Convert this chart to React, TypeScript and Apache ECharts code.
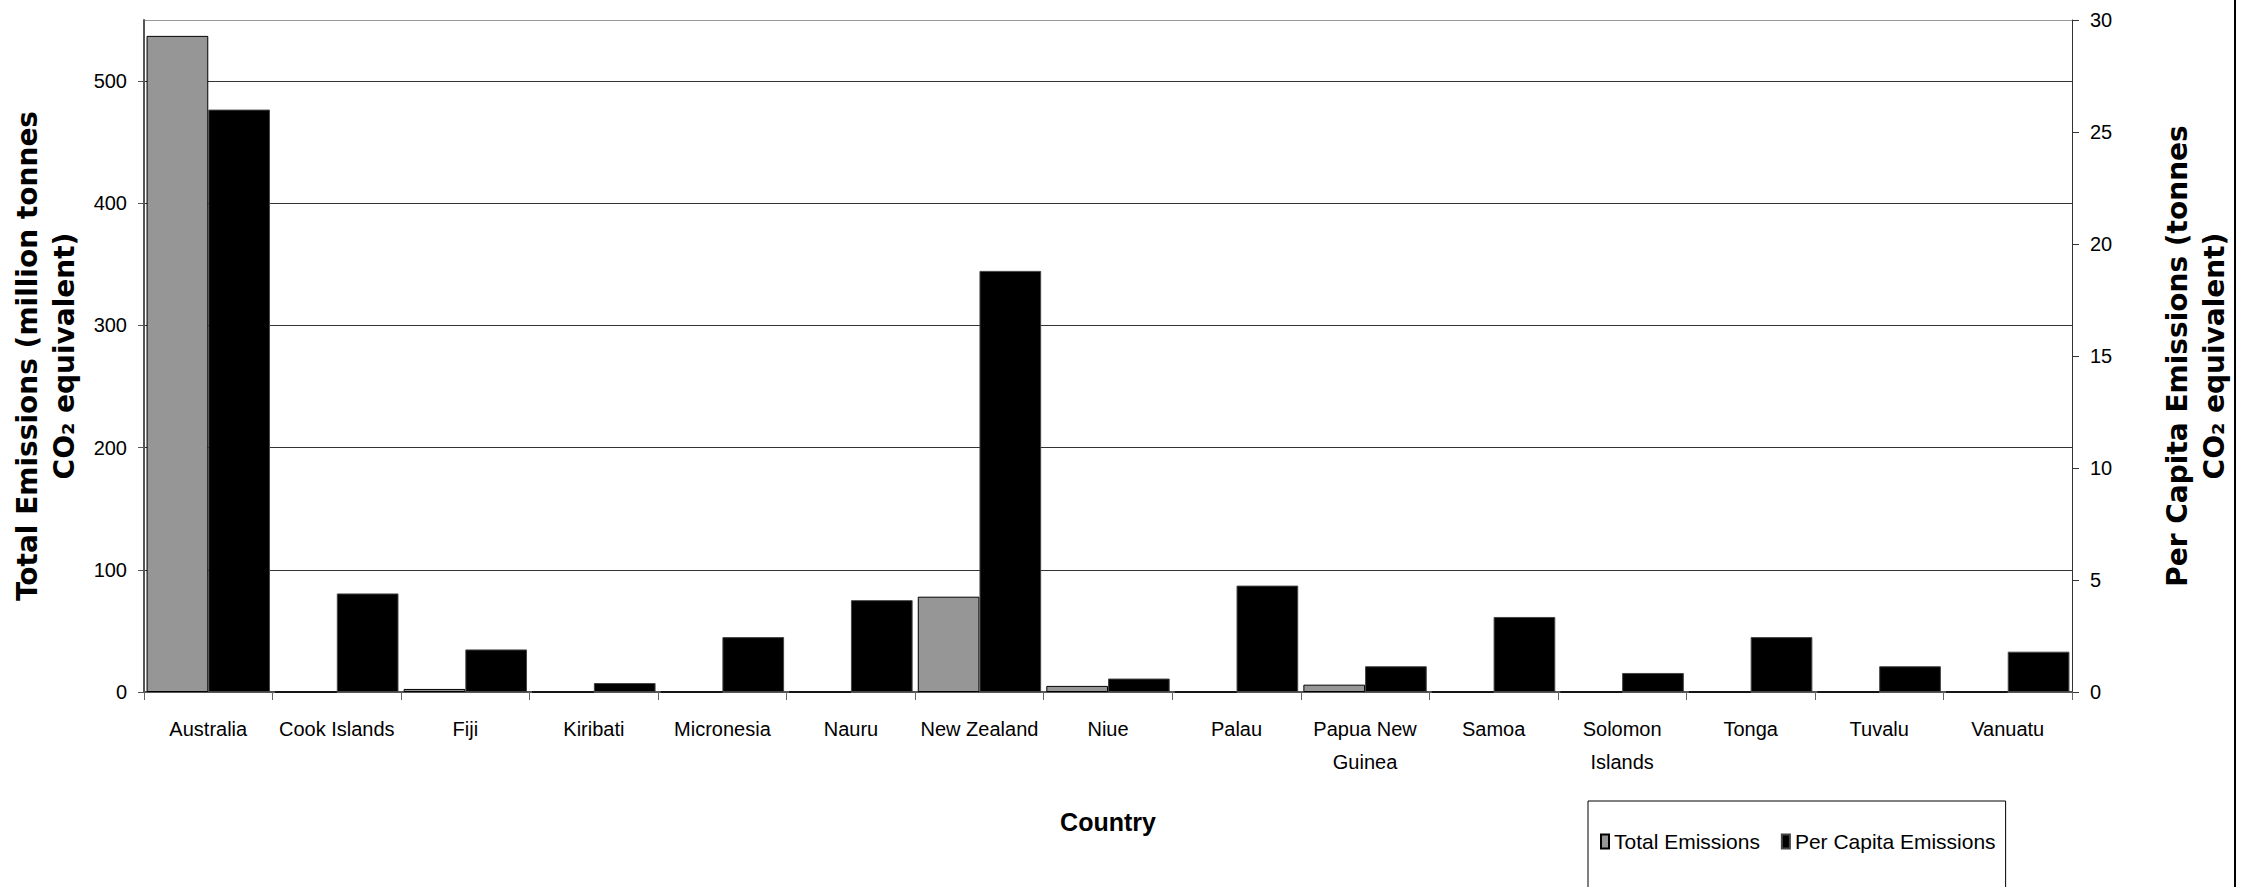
import React, { useEffect, useRef } from "react";
import * as echarts from "echarts";

const categories = [
  "Australia",
  "Cook Islands",
  "Fiji",
  "Kiribati",
  "Micronesia",
  "Nauru",
  "New Zealand",
  "Niue",
  "Palau",
  "Papua New Guinea",
  "Samoa",
  "Solomon Islands",
  "Tonga",
  "Tuvalu",
  "Vanuatu",
];

// million tonnes CO2 equivalent (left axis)
const totalEmissions = [537, 0, 2.5, 0, 0, 0, 78, 5, 0, 6, 0, 0, 0, 0, 0];

// tonnes CO2 equivalent per person (right axis)
const perCapitaEmissions = [26.0, 4.4, 1.9, 0.4, 2.45, 4.1, 18.8, 0.6, 4.75, 1.15, 3.35, 0.85, 2.45, 1.15, 1.8];

const seriesNames = ["Total Emissions", "Per Capita Emissions"];
const xTitle = "Country";
const leftTitle = "Total Emissions (million tonnes\nCO\u2082 equivalent)";
const rightTitle = "Per Capita Emissions (tonnes\nCO\u2082 equivalent)";

const SANS = "'Liberation Sans', Arial, sans-serif";
const TITLE = "'DejaVu Sans', sans-serif";

export default function App() {
  const ref = useRef<HTMLDivElement>(null);

  useEffect(() => {
    document.body.style.margin = "0";
    if (!ref.current) return;
    const chart = echarts.init(ref.current, undefined, { renderer: "svg" });
    const wrap = (v: string) =>
      v === "Papua New Guinea" ? "Papua New\nGuinea" : v === "Solomon Islands" ? "Solomon\nIslands" : v;

    chart.setOption({
      animation: false,
      backgroundColor: "#ffffff",
      grid: {
        left: 144,
        right: 186,
        top: 20,
        bottom: 195,
        containLabel: false,
        show: false,
      },
      legend: {
        data: seriesNames,
        left: 1588,
        top: 801,
        orient: "horizontal",
        icon: "rect",
        itemWidth: 8,
        itemHeight: 14,
        itemGap: 21,
        padding: [30, 10, 45, 12],
        borderColor: "#000",
        borderWidth: 1,
        textStyle: { fontFamily: SANS, fontSize: 21, color: "#000" },
      },
      xAxis: {
        type: "category",
        data: categories,
        name: xTitle,
        nameLocation: "middle",
        nameGap: 117,
        nameTextStyle: { fontFamily: SANS, fontWeight: "bold", fontSize: 25, color: "#000" },
        axisLine: { lineStyle: { color: "#555", width: 2 } },
        axisTick: { show: true, length: 8, lineStyle: { color: "#666", width: 1 } },
        axisLabel: {
          interval: 0,
          margin: 20,
          fontFamily: SANS,
          fontSize: 20,
          lineHeight: 33,
          color: "#000",
          formatter: wrap,
        },
      },
      yAxis: [
        {
          type: "value",
          min: 0,
          max: 550,
          interval: 100,
          position: "left",
          name: leftTitle,
          nameLocation: "middle",
          nameRotate: 90,
          nameGap: 57,
          nameTextStyle: {
            fontFamily: TITLE,
            fontWeight: "bold",
            fontSize: 28,
            lineHeight: 37,
            color: "#000",
          },
          axisLine: { show: true, lineStyle: { color: "#555", width: 2 } },
          axisTick: { show: true, length: 6, lineStyle: { color: "#555" } },
          axisLabel: {
            margin: 17,
            fontFamily: SANS,
            fontSize: 20,
            color: "#000",
            showMaxLabel: false,
          },
          splitLine: {
            show: true,
            lineStyle: {
              color: ["#333", "#333", "#333", "#333", "#333", "#333", "#999"],
              width: 1,
            },
          },
        },
        {
          type: "value",
          min: 0,
          max: 30,
          interval: 5,
          position: "right",
          name: rightTitle,
          nameLocation: "middle",
          nameRotate: 90,
          nameGap: 87,
          nameTextStyle: {
            fontFamily: TITLE,
            fontWeight: "bold",
            fontSize: 28,
            lineHeight: 37,
            color: "#000",
          },
          axisLine: { show: true, lineStyle: { color: "#333", width: 1 } },
          axisTick: { show: true, length: 7, lineStyle: { color: "#333" } },
          axisLabel: { margin: 18, fontFamily: SANS, fontSize: 20, color: "#000" },
          splitLine: { show: false },
        },
      ],
      series: [
        {
          name: seriesNames[0],
          type: "bar",
          yAxisIndex: 0,
          data: totalEmissions,
          barGap: "0%",
          barCategoryGap: "4%",
          itemStyle: { color: "#969696", borderColor: "#000", borderWidth: 1 },
        },
        {
          name: seriesNames[1],
          type: "bar",
          yAxisIndex: 1,
          data: perCapitaEmissions,
          barGap: "0%",
          barCategoryGap: "4%",
          itemStyle: { color: "#000", borderColor: "#444", borderWidth: 1 },
        },
      ],
      graphic: [
        {
          type: "line",
          shape: { x1: 2235, y1: 0, x2: 2235, y2: 887 },
          style: { stroke: "#000", lineWidth: 2 },
          silent: true,
        },
      ],
    });

    return () => {
      chart.dispose();
    };
  }, []);

  return <div ref={ref} style={{ width: 2258, height: 887 }} />;
}
